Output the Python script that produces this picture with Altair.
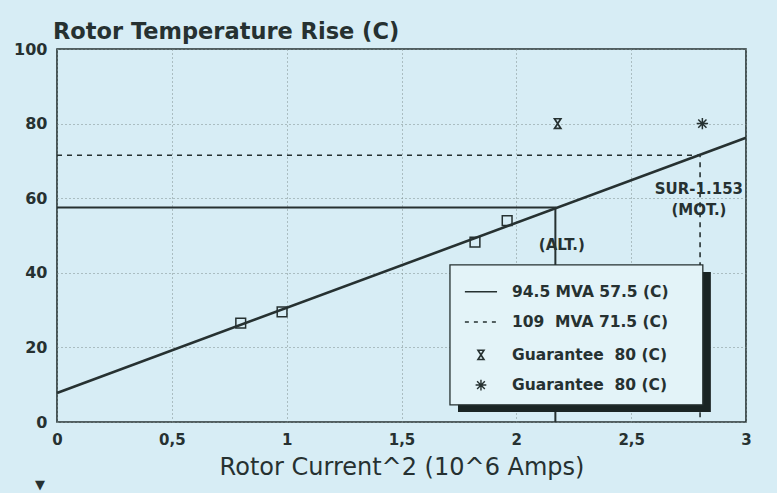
import altair as alt
import pandas as pd

# ---------------- data ----------------
meas_x = [0.80, 0.98, 1.82, 1.96]
meas_y = [26.5, 29.5, 48.2, 54.0]

fit_x = [0.0, 3.0]
fit_y = [7.8, 76.2]

alt_path_x = [0.0, 2.17, 2.17]
alt_path_y = [57.5, 57.5, 0.0]

mot_path_x = [0.0, 2.80, 2.80]
mot_path_y = [71.5, 71.5, 0.0]

guar_alt_x = [2.18]
guar_alt_y = [80.0]
guar_mot_x = [2.81]
guar_mot_y = [80.0]

annot_text = ["SUR-1.153", "(MOT.)", "(ALT.)"]
annot_x = [2.795, 2.795, 2.198]
annot_y = [62.6, 56.8, 47.5]

legend_labels = ["94.5 MVA 57.5 (C)", "109\u00a0\u00a0MVA 71.5 (C)",
                 "Guarantee\u00a0\u00a080 (C)", "Guarantee\u00a0\u00a080 (C)"]
legend_row_y = [34.9, 26.8, 18.0, 9.9]
legend_box_x = [1.711, 2.812]
legend_box_y = [4.6, 42.1]
legend_shadow_x = [1.746, 2.847]
legend_shadow_y = [2.7, 40.2]
legend_sym_x = [1.776, 1.916]
legend_text_x = 1.981

x_ticks = [0, 0.5, 1, 1.5, 2, 2.5, 3]
y_ticks = [0, 20, 40, 60, 80, 100]

# ---------------- styling ----------------
BG = "#d7edf5"
INK = "#263131"
FONT = "DejaVu Sans"
HOURGLASS = "M-0.65,-1L0.65,-1L-0.65,1L0.65,1Z"
ASTERISK = "M0,-1L0,1M-1,0L1,0M-0.72,-0.72L0.72,0.72M-0.72,0.72L0.72,-0.72"

xs = alt.Scale(domain=[0, 3], nice=False, zero=False)
ys = alt.Scale(domain=[0, 100], nice=False, zero=False)

x_axis = alt.Axis(
    title="Rotor Current^2 (10^6 Amps)", values=x_ticks,
    labelExpr="replace(toString(datum.value), '.', ',')",
    grid=True, gridDash=[1, 3], gridColor="#7d8c8c", gridWidth=1,
    domain=False, ticks=False, labelPadding=10, labelFlush=False,
    labelFont=FONT, labelFontSize=15, labelFontWeight="bold", labelColor=INK,
    titleFont=FONT, titleFontSize=24, titleFontWeight="normal", titleColor=INK,
    titlePadding=8)
y_axis = alt.Axis(
    title=None, values=y_ticks,
    grid=True, gridDash=[1, 3], gridColor="#7d8c8c", gridWidth=1,
    domain=False, ticks=False, labelPadding=10, labelFlush=False,
    labelFont=FONT, labelFontSize=16, labelFontWeight="bold", labelColor=INK)

def X(field="x"):
    return alt.X(f"{field}:Q", scale=xs, axis=x_axis)

def Y(field="y"):
    return alt.Y(f"{field}:Q", scale=ys, axis=y_axis)

meas = alt.Chart(pd.DataFrame({"x": meas_x, "y": meas_y})).mark_point(
    shape="square", filled=False, size=95, color=INK, strokeWidth=1.5, opacity=1
).encode(x=X(), y=Y())

fit = alt.Chart(pd.DataFrame({"x": fit_x, "y": fit_y})).mark_line(
    color=INK, strokeWidth=2.6).encode(x=X(), y=Y())

alt_df = pd.DataFrame({"x": alt_path_x, "y": alt_path_y, "o": range(len(alt_path_x))})
alt_line = alt.Chart(alt_df).mark_line(color=INK, strokeWidth=2).encode(
    x=X(), y=Y(), order="o:Q")

mot_df = pd.DataFrame({"x": mot_path_x, "y": mot_path_y, "o": range(len(mot_path_x))})
mot_line = alt.Chart(mot_df).mark_line(color=INK, strokeWidth=1.6, strokeDash=[5, 5]).encode(
    x=X(), y=Y(), order="o:Q")

g_alt = alt.Chart(pd.DataFrame({"x": guar_alt_x, "y": guar_alt_y})).mark_point(
    shape=HOURGLASS, filled=False, size=95, color=INK, strokeWidth=1.7, opacity=1
).encode(x=X(), y=Y())
g_mot = alt.Chart(pd.DataFrame({"x": guar_mot_x, "y": guar_mot_y})).mark_point(
    shape=ASTERISK, filled=False, size=130, color=INK, strokeWidth=1.5, opacity=1
).encode(x=X(), y=Y())

annots = alt.Chart(pd.DataFrame({"x": annot_x, "y": annot_y, "t": annot_text})).mark_text(
    font=FONT, fontSize=15, fontWeight="bold", color=INK, align="center", baseline="middle"
).encode(x=X(), y=Y(), text="t:N")

# legend (drawn in data space)
shadow = alt.Chart(pd.DataFrame({"x": [legend_shadow_x[0]], "x2": [legend_shadow_x[1]],
                                 "y": [legend_shadow_y[0]], "y2": [legend_shadow_y[1]]})).mark_rect(
    fill="#1a2424").encode(x=X(), x2="x2:Q", y=Y(), y2="y2:Q")
box = alt.Chart(pd.DataFrame({"x": [legend_box_x[0]], "x2": [legend_box_x[1]],
                              "y": [legend_box_y[0]], "y2": [legend_box_y[1]]})).mark_rect(
    fill="#e3f3f8", stroke=INK, strokeWidth=1.3).encode(x=X(), x2="x2:Q", y=Y(), y2="y2:Q")

leg_solid = alt.Chart(pd.DataFrame({"x": [legend_sym_x[0]], "x2": [legend_sym_x[1]],
                                    "y": [legend_row_y[0]]})).mark_rule(
    color=INK, strokeWidth=1.6).encode(x=X(), x2="x2:Q", y=Y())
leg_dash = alt.Chart(pd.DataFrame({"x": [legend_sym_x[0]], "x2": [legend_sym_x[1]],
                                   "y": [legend_row_y[1]]})).mark_rule(
    color=INK, strokeWidth=1.4, strokeDash=[4, 5]).encode(x=X(), x2="x2:Q", y=Y())
sym_cx = (legend_sym_x[0] + legend_sym_x[1]) / 2
leg_hg = alt.Chart(pd.DataFrame({"x": [sym_cx], "y": [legend_row_y[2]]})).mark_point(
    shape=HOURGLASS, filled=False, size=85, color=INK, strokeWidth=1.6, opacity=1
).encode(x=X(), y=Y())
leg_ast = alt.Chart(pd.DataFrame({"x": [sym_cx], "y": [legend_row_y[3]]})).mark_point(
    shape=ASTERISK, filled=False, size=115, color=INK, strokeWidth=1.4, opacity=1
).encode(x=X(), y=Y())
leg_text = alt.Chart(pd.DataFrame({"x": [legend_text_x] * 4, "y": legend_row_y,
                                   "t": legend_labels})).mark_text(
    font=FONT, fontSize=15.5, fontWeight="bold", color=INK, align="left", baseline="middle"
).encode(x=X(), y=Y(), text="t:N")

marker = alt.Chart(pd.DataFrame({"t": ["\u25bc"]})).mark_text(
    font=FONT, fontSize=13, color=INK).encode(
    x=alt.value(-17), y=alt.value(436), text="t:N")

chart = alt.layer(
    meas, fit, alt_line, mot_line, g_alt, g_mot, annots,
    shadow, box, leg_solid, leg_dash, leg_hg, leg_ast, leg_text, marker
).properties(
    width=689, height=373,
    title=alt.TitleParams("Rotor Temperature Rise (C)", anchor="start", frame="group",
                          font=FONT, fontSize=22.5, fontWeight="bold", color=INK,
                          offset=-2, dx=-4),
    padding={"left": 57, "top": 49, "right": 31, "bottom": 71},
    autosize=alt.AutoSizeParams(type="none"),
    background=BG,
).configure_view(
    stroke=INK, strokeWidth=1.6, fill=BG
)

chart.save("out.html", embed_options={"renderer": "svg", "actions": False})
